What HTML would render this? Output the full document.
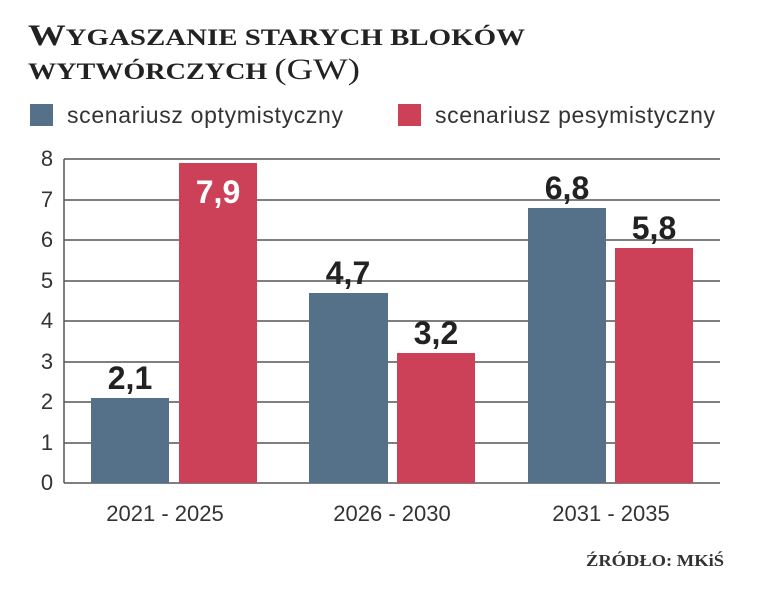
<!DOCTYPE html>
<html><head><meta charset="utf-8"><style>
html,body{margin:0;padding:0;background:#fff;}
svg{display:block}
</style></head><body>
<svg width="758" height="593" xmlns="http://www.w3.org/2000/svg">
<text x="28" y="45" font-family="Liberation Serif, serif" font-weight="bold" font-size="30" fill="#222" textLength="497" lengthAdjust="spacingAndGlyphs">W<tspan font-size="23">YGASZANIE STARYCH BLOKÓW</tspan></text>
<text x="28" y="79" font-family="Liberation Serif, serif" font-weight="bold" font-size="23" fill="#222" textLength="332" lengthAdjust="spacingAndGlyphs">WYTWÓRCZYCH <tspan font-weight="normal" font-size="30">(GW)</tspan></text>
<rect x="30" y="104" width="23" height="22" fill="#557189"/>
<text x="67" y="123" font-family="Liberation Sans, sans-serif" font-size="23" fill="#333" textLength="276">scenariusz optymistyczny</text>
<rect x="398" y="104" width="23" height="22" fill="#cc4158"/>
<text x="435" y="123" font-family="Liberation Sans, sans-serif" font-size="23" fill="#333" textLength="280">scenariusz pesymistyczny</text>
<g stroke="#555" stroke-width="1.5">
<line x1="64" y1="159" x2="720" y2="159"/><line x1="64" y1="200" x2="720" y2="200"/>
<line x1="64" y1="240" x2="720" y2="240"/><line x1="64" y1="281" x2="720" y2="281"/>
<line x1="64" y1="321" x2="720" y2="321"/><line x1="64" y1="362" x2="720" y2="362"/>
<line x1="64" y1="402" x2="720" y2="402"/><line x1="64" y1="443" x2="720" y2="443"/>
<line x1="64" y1="483" x2="720" y2="483"/><line x1="64" y1="159" x2="64" y2="483"/>
</g>
<g font-family="Liberation Sans, sans-serif" font-size="22" fill="#333" text-anchor="middle">
<text x="47" y="166">8</text><text x="47" y="207">7</text><text x="47" y="247">6</text><text x="47" y="288">5</text>
<text x="47" y="328">4</text><text x="47" y="369">3</text><text x="47" y="409">2</text><text x="47" y="450">1</text><text x="47" y="490">0</text>
<text x="165" y="521">2021 - 2025</text><text x="392" y="521">2026 - 2030</text><text x="611" y="521">2031 - 2035</text>
</g>
<g fill="#557189">
<rect x="91" y="398" width="78" height="85"/><rect x="309" y="293" width="79" height="190"/><rect x="528" y="208" width="78" height="275"/>
</g>
<g fill="#cc4158">
<rect x="179" y="163" width="78" height="320"/><rect x="397" y="353" width="78" height="130"/><rect x="615" y="248" width="78" height="235"/>
</g>
<g font-family="Liberation Sans, sans-serif" font-weight="bold" font-size="32" text-anchor="middle" fill="#222">
<text x="130" y="389">2,1</text><text x="218" y="203" fill="#fff">7,9</text>
<text x="348" y="284">4,7</text><text x="436" y="344">3,2</text>
<text x="567" y="199">6,8</text><text x="654" y="239">5,8</text>
</g>
<text x="724" y="566" text-anchor="end" font-family="Liberation Serif, serif" font-weight="bold" font-size="17" fill="#333" textLength="138" lengthAdjust="spacingAndGlyphs">ŹRÓDŁO: MKiŚ</text>
</svg>
</body></html>
